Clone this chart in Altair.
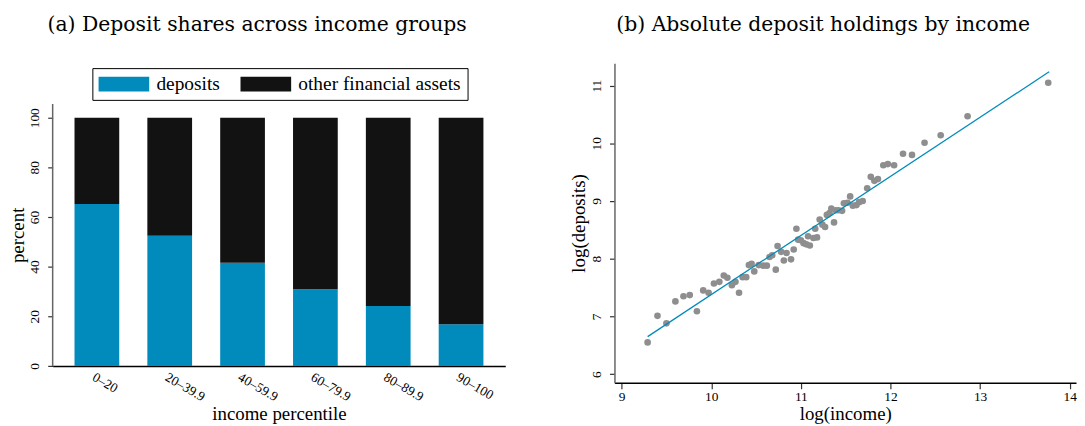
import altair as alt
import pandas as pd

# ---------------- data: panel (a) ----------------
groups = ["0–20", "20–39.9", "40–59.9", "60–79.9", "80–89.9", "90–100"]
deposit_share = [65.2, 52.4, 41.6, 30.9, 24.1, 16.8]
other_share = [34.8, 47.6, 58.4, 69.1, 75.9, 83.2]
series_names = ["deposits", "other financial assets"]
y_ticks_a = [0, 20, 40, 60, 80, 100]
y_axis_a_extent = [0, 105.5]

# ---------------- data: panel (b) ----------------
log_income = [9.29, 9.40, 9.50, 9.60, 9.69, 9.76, 9.84, 9.91, 9.97, 10.03,
              10.09, 10.14, 10.18, 10.23, 10.27, 10.31, 10.35, 10.39, 10.42, 10.45,
              10.48, 10.53, 10.58, 10.62, 10.65, 10.68, 10.72, 10.74, 10.78, 10.81,
              10.84, 10.89, 10.92, 10.95, 10.97, 11.00, 11.03, 11.06, 11.08, 11.10,
              11.14, 11.16, 11.18, 11.21, 11.24, 11.27, 11.29, 11.32, 11.34, 11.37,
              11.39, 11.42, 11.46, 11.48, 11.52, 11.55, 11.58, 11.62, 11.65, 11.69,
              11.74, 11.78, 11.82, 11.86, 11.92, 11.97, 12.04, 12.14, 12.24, 12.38,
              12.56, 12.86, 13.76]
log_deposits = [6.55, 7.01, 6.88, 7.26, 7.35, 7.37, 7.09, 7.45, 7.41, 7.57,
                7.60, 7.71, 7.67, 7.54, 7.60, 7.41, 7.68, 7.68, 7.89, 7.91,
                7.78, 7.89, 7.88, 7.88, 8.03, 8.06, 7.81, 8.22, 8.12, 7.97,
                8.10, 7.99, 8.16, 8.52, 8.33, 8.32, 8.27, 8.25, 8.39, 8.23,
                8.36, 8.52, 8.37, 8.68, 8.59, 8.55, 8.76, 8.79, 8.87, 8.63,
                8.84, 8.84, 8.83, 8.96, 8.97, 9.08, 8.92, 8.93, 8.98, 9.00,
                9.22, 9.42, 9.35, 9.38, 9.62, 9.64, 9.62, 9.82, 9.80, 10.01,
                10.14, 10.47, 11.05]
fit_x = [9.29, 13.77]
fit_y = [6.65, 11.24]
x_ticks_b = [9, 10, 11, 12, 13, 14]
y_ticks_b = [6, 7, 8, 9, 10, 11]

BLUE = "#008BBC"
BLACK = "#121212"
GRAY = "#8E8E8E"
SERIF = "Liberation Serif"
TITLE_FONT = "DejaVu Serif"

# ---------------- panel (a) ----------------
rows = []
for g, d, o in zip(groups, deposit_share, other_share):
    rows.append({"group": g, "series": series_names[0], "share": d, "ord": 0})
    rows.append({"group": g, "series": series_names[1], "share": o, "ord": 1})
df_bars = pd.DataFrame(rows)

bars = alt.Chart(df_bars).mark_bar(strokeWidth=0).encode(
    x=alt.X("group:N", sort=groups,
            scale=alt.Scale(paddingInner=0.386, paddingOuter=0.30),
            axis=alt.Axis(title="income percentile", labelAngle=30, labelAlign="left",
                          labelBaseline="top", ticks=False, labelPadding=4,
                          domainColor="black", domainWidth=1.5, titlePadding=1)),
    y=alt.Y("share:Q", stack="zero",
            scale=alt.Scale(domain=[0, 122], nice=False, zero=True),
            axis=alt.Axis(title="percent", values=y_ticks_a, domain=False,
                          labelAngle=-90, labelAlign="center", labelBaseline="bottom",
                          tickSize=5, labelPadding=6, titlePadding=0, titleY=173)),
    color=alt.Color("series:N",
                    scale=alt.Scale(domain=series_names, range=[BLUE, BLACK]),
                    legend=alt.Legend(orient="none", legendX=40, legendY=5,
                                      direction="horizontal", title=None,
                                      symbolType="M-1,-0.79L4.37,-0.79L4.37,0.79L-1,0.79Z",
                                      symbolSize=361, symbolStrokeWidth=0,
                                      symbolOpacity=1,
                                      labelFont=SERIF, labelFontSize=19.5,
                                      labelLimit=400,
                                      labelOffset=39, columnPadding=20, padding=6,
                                      strokeColor="black", fillColor="white")),
    order=alt.Order("ord:Q", sort="ascending"),
)

df_axis_a = pd.DataFrame({"share": [y_axis_a_extent[0]], "share_top": [y_axis_a_extent[1]]})
yline = alt.Chart(df_axis_a).mark_rule(color="#666666", strokeWidth=1.5).encode(
    x=alt.value(0),
    y=alt.Y("share:Q"),
    y2="share_top:Q",
)

left = alt.layer(bars, yline).properties(
    width=456, height=305,
    title=alt.TitleParams("(a) Deposit shares across income groups", frame="bounds",
                          anchor="middle", offset=28),
)

# ---------------- panel (b) ----------------
df_pts = pd.DataFrame({"log_income": log_income, "log_deposits": log_deposits})
df_fit = pd.DataFrame({"log_income": fit_x, "log_deposits": fit_y})

xb = alt.X("log_income:Q",
           scale=alt.Scale(domain=[8.92, 14.07], nice=False, zero=False),
           axis=alt.Axis(title="log(income)", values=x_ticks_b, format="d", tickSize=6,
                         labelPadding=1, titlePadding=2, domainColor="black",
                         domainWidth=1.5, labelAngle=0))
yb = alt.Y("log_deposits:Q",
           scale=alt.Scale(domain=[5.85, 11.39], nice=False, zero=False),
           axis=alt.Axis(title="log(deposits)", values=y_ticks_b, format="d", tickSize=5,
                         labelAngle=-90, labelAlign="center", labelBaseline="bottom",
                         labelPadding=6, titlePadding=1, domainColor="#666666",
                         domainWidth=1.5))

pts = alt.Chart(df_pts).mark_circle(size=45, color=GRAY, opacity=1).encode(x=xb, y=yb)
fit = alt.Chart(df_fit).mark_line(color=BLUE, strokeWidth=1.3).encode(
    x="log_income:Q", y="log_deposits:Q")

right = alt.layer(pts, fit).properties(
    width=465, height=322,
    title=alt.TitleParams("(b) Absolute deposit holdings by income", frame="bounds",
                          anchor="middle", offset=28),
)

chart = alt.hconcat(left, right, spacing=64).properties(
    padding={"left": 0, "top": 5, "right": 0, "bottom": 0}
).configure_view(stroke=None).configure_axis(
    grid=False, labelFont=SERIF, labelFontSize=13.5, labelColor="black",
    titleFont=SERIF, titleFontSize=19, titleFontWeight="normal", titleColor="black",
    tickColor="#333333", tickWidth=1.2,
).configure_title(
    font=TITLE_FONT, fontSize=20.5, fontWeight="normal", color="black"
)

chart.save("out.html", embed_options={"renderer": "svg", "actions": False})
